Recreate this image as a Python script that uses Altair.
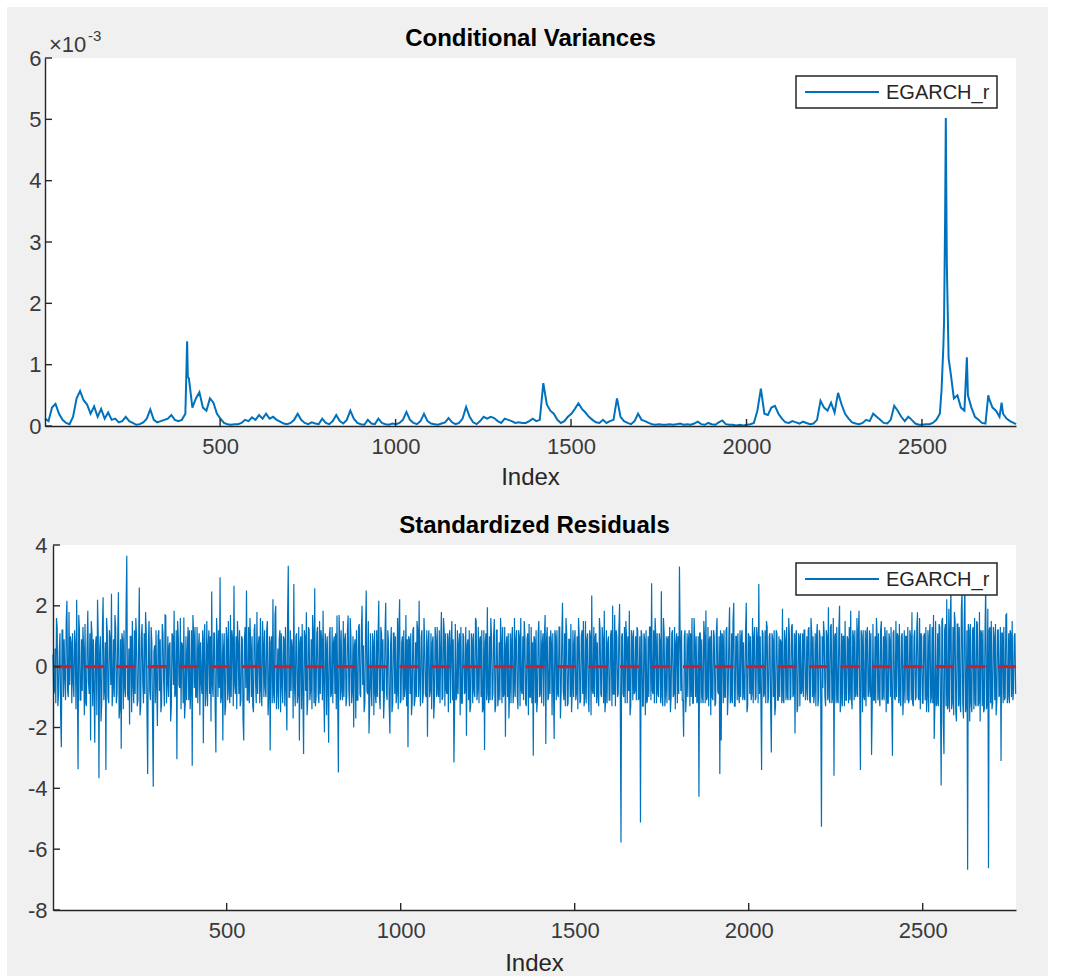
import altair as alt
import pandas as pd

FONT = "Liberation Sans"
LINE_BLUE = "#0072BD"
AXIS_GRAY = "#262626"
LABEL_GRAY = "#3a3a3a"
FIG_GRAY = "#f0f0f0"

series_name = "EGARCH_r"
x_ticks = [500, 1000, 1500, 2000, 2500]
var_ticks = [0, 1, 2, 3, 4, 5, 6]
res_ticks = [-8, -6, -4, -2, 0, 2, 4]
n_obs = 2768

# Conditional variance (units of 1e-3), every 10th observation starting at 1
var_grid = list(range(1, n_obs, 10))
cond_var = [
    0.12, 0.08, 0.30, 0.36, 0.20, 0.10, 0.05, 0.03, 0.15, 0.45,
    0.57, 0.42, 0.35, 0.20, 0.32, 0.15, 0.28, 0.12, 0.22, 0.10,
    0.12, 0.06, 0.08, 0.15, 0.08, 0.05, 0.02, 0.03, 0.06, 0.12,
    0.27, 0.10, 0.06, 0.08, 0.10, 0.12, 0.18, 0.10, 0.08, 0.10,
    0.20, 0.78, 0.30, 0.45, 0.55, 0.30, 0.25, 0.45, 0.38, 0.20,
    0.12, 0.05, 0.03, 0.02, 0.03, 0.03, 0.05, 0.10, 0.08, 0.14,
    0.10, 0.18, 0.12, 0.20, 0.12, 0.15, 0.10, 0.07, 0.04, 0.03,
    0.05, 0.10, 0.20, 0.10, 0.05, 0.03, 0.06, 0.04, 0.03, 0.12,
    0.05, 0.03, 0.08, 0.18, 0.08, 0.04, 0.10, 0.25, 0.12, 0.05,
    0.03, 0.02, 0.10, 0.04, 0.03, 0.12, 0.05, 0.03, 0.02, 0.04,
    0.03, 0.05, 0.10, 0.23, 0.10, 0.05, 0.03, 0.08, 0.20, 0.08,
    0.04, 0.03, 0.02, 0.04, 0.06, 0.13, 0.06, 0.03, 0.05, 0.12,
    0.31, 0.15, 0.06, 0.03, 0.08, 0.15, 0.12, 0.15, 0.13, 0.08,
    0.05, 0.12, 0.10, 0.08, 0.05, 0.06, 0.05, 0.05, 0.08, 0.12,
    0.08, 0.10, 0.70, 0.35, 0.25, 0.20, 0.10, 0.05, 0.08, 0.15,
    0.20, 0.28, 0.37, 0.28, 0.22, 0.15, 0.10, 0.06, 0.05, 0.10,
    0.05, 0.08, 0.10, 0.45, 0.15, 0.08, 0.05, 0.03, 0.08, 0.20,
    0.10, 0.08, 0.05, 0.03, 0.02, 0.03, 0.02, 0.02, 0.03, 0.02,
    0.03, 0.04, 0.02, 0.03, 0.02, 0.04, 0.07, 0.03, 0.02, 0.05,
    0.03, 0.02, 0.06, 0.09, 0.03, 0.02, 0.02, 0.01, 0.02, 0.01,
    0.02, 0.03, 0.05, 0.25, 0.61, 0.20, 0.18, 0.30, 0.33, 0.20,
    0.12, 0.06, 0.05, 0.08, 0.06, 0.04, 0.07, 0.05, 0.03, 0.04,
    0.10, 0.41, 0.30, 0.25, 0.38, 0.22, 0.54, 0.35, 0.20, 0.12,
    0.06, 0.04, 0.03, 0.05, 0.10, 0.08, 0.20, 0.15, 0.10, 0.05,
    0.04, 0.10, 0.33, 0.25, 0.15, 0.08, 0.15, 0.10, 0.04, 0.02,
    0.02, 0.03, 0.03, 0.05, 0.10, 0.20, 1.30, 2.60, 0.90, 0.45,
    0.50, 0.30, 0.25, 0.50, 0.30, 0.15, 0.10, 0.05, 0.04, 0.45,
    0.30, 0.25, 0.15, 0.20, 0.12, 0.08, 0.05,
]
# Extra observations at the sharp variance peaks
peak_index = [404, 406, 408, 2556, 2563, 2566, 2568, 2570, 2573, 2576, 2628, 2689, 2727, 2768]
peak_value = [0.90, 1.38, 0.80, 0.60, 1.70, 3.40, 5.02, 3.30, 2.00, 1.10, 1.12, 0.50, 0.38, 0.03]

# Standardized residuals at observations 1, 5, 9, ... (15 per 60 obs)
res_grid = list(range(1, n_obs, 4))
std_resid = [
    0.4, -0.8, -1.2, 1.3, -0.9, 1.1, -2.65, 1.2, 0.9, -1.1, 2.17, -1.0, -0.6, 0.8, 1.1,
    -1.0, 0.7, 2.2, -3.37, 1.2, -1.1, -0.8, 0.6, 1.4, -1.3, 1.84, -0.9, -2.43, 1.1, 0.9,
    -2.5, 1.0, 2.2, -3.67, 1.0, -1.2, 2.28, -0.7, -3.4, 1.1, -1.2, 0.9, 2.4, -0.8, -1.0,
    1.3, -0.9, 2.45, -1.4, -2.7, 0.9, 1.2, -1.0, 3.65, -1.1, -1.9, 1.0, 1.5, -1.2, -0.9,
    1.0, -1.1, 2.6, -1.3, 1.4, -1.2, -0.9, 1.1, -3.53, 1.5, -1.1, 0.8, -3.95, 0.7, 1.2,
    -1.95, 1.2, 0.9, -1.2, 1.1, -1.3, 1.68, -0.6, -1.0, 0.8, -1.3, 1.0, 1.84, -0.9, -3.04,
    1.0, -0.7, -1.4, 0.7, 1.62, -1.2, -1.1, 1.3, 1.2, -0.8, -3.26, 1.1, 1.3, -1.0, -1.2,
    1.1, 0.8, -0.9, -2.52, 1.4, -0.8, -1.3, 1.2, 1.0, 2.47, -1.0, 1.1, -2.82, 0.9, 1.2,
    2.94, -1.0, -2.43, 1.1, -1.3, 0.9, 1.5, -1.2, -1.0, 0.9, 2.66, -0.9, -1.4, 0.8, 1.2,
    -1.1, 0.9, -2.43, 1.3, 2.5, -1.1, -1.2, 0.7, 1.0, -1.5, 1.4, -1.2, -0.9, 1.0, 1.6,
    -1.3, 0.8, 1.2, -1.0, 1.5, -0.9, -2.76, 1.0, 2.22, -1.2, 2.0, -0.8, -1.4, 1.2, 1.1,
    -1.2, 0.9, 1.3, -2.1, 3.32, -1.0, -0.8, 0.6, 2.72, -1.3, 1.1, -0.9, -2.43, 1.0, 1.4,
    -2.87, 1.0, 1.79, -1.1, 1.2, -0.8, -1.4, 1.1, 2.58, -1.0, 1.3, -1.2, -0.9, 0.9, 1.84,
    -2.16, 0.8, 1.0, -2.5, 1.3, -0.9, -1.2, 1.0, 1.1, 1.68, -3.48, 0.9, 1.2, -1.1, -1.0,
    1.1, -1.0, 1.68, -1.3, 1.0, -0.8, -2.0, 0.9, 1.2, -1.1, 1.4, -1.0, 2.0, 0.7, -1.2,
    2.5, -0.9, -2.2, 1.1, -1.3, 0.8, 1.2, -1.2, -1.0, 2.17, -1.4, 1.1, 0.9, -1.0, 2.1,
    -1.1, 0.8, -2.2, 1.3, -1.2, 1.1, 1.0, -0.9, -1.4, 2.22, -1.1, 1.0, 1.2, -0.7, -1.3,
    -2.65, 0.9, 1.1, -1.2, 1.3, -1.1, -1.0, 1.2, 2.17, -1.3, 1.2, -0.9, 0.8, -1.0, -2.3,
    1.2, -0.8, -1.4, 1.0, -1.1, 0.9, 1.3, -1.0, -1.2, 1.8, -1.0, 1.2, 1.1, -0.9, -1.5,
    1.2, 0.7, -1.1, -3.15, 1.4, -1.0, -0.9, 1.1, 1.3, -1.2, 1.0, -0.8, -2.27, 0.9, 1.2,
    -1.3, 0.9, 1.1, -1.0, 1.5, -0.8, -1.2, 1.0, 1.2, -1.4, -2.74, 1.1, 1.95, -1.2, -1.1,
    1.0, -0.9, 1.57, -1.3, 1.2, -1.0, -1.1, 0.9, 1.3, -0.9, -2.3, 1.0, 1.1, -0.8, -1.2,
    1.3, -0.8, -1.0, 1.2, -1.4, 1.0, 1.6, -0.9, -1.1, 1.0, -1.3, 1.1, 1.4, -1.0, -1.2,
    -2.93, 0.9, 1.2, -1.1, 1.5, -0.9, -1.2, 1.1, 1.0, -2.54, 1.3, -1.0, -0.9, 0.8, 1.1,
    -2.38, 1.0, 1.2, -1.0, 1.3, -0.9, 2.1, -1.1, -1.3, 1.1, -1.2, 0.9, 1.4, -0.8, -1.0,
    1.2, -0.9, -1.4, 1.0, -1.1, 1.2, 1.5, -1.0, -1.2, 1.1, -1.5, 1.0, 2.34, -0.9, -1.0,
    1.1, 0.8, -1.3, 1.2, -1.0, 0.9, 1.84, -1.1, -1.2, 1.0, -1.1, 1.2, 2.0, -0.9, -1.3,
    1.0, -0.9, 2.06, -5.78, 1.1, -1.0, -1.2, 0.9, 1.0, 1.84, -1.3, 1.0, 1.2, -0.8, -1.1,
    1.2, -1.0, -5.12, 1.0, -1.3, 0.9, 1.2, -1.1, -1.0, 1.3, 2.74, -0.9, -1.2, 1.0, 1.1,
    -1.0, 0.8, 2.48, -1.3, 1.1, -0.9, -1.2, 1.0, 1.3, -1.0, 1.2, -0.9, -1.4, 1.1, 1.0,
    3.29, -0.8, -1.1, -2.3, 1.2, -0.9, -1.0, 1.2, 1.1, 1.6, -1.2, 0.9, 1.0, -1.1, -4.28,
    1.1, 0.9, -1.2, 1.0, 1.85, -1.0, -1.3, 1.0, 1.2, -1.1, 1.0, -1.2, 1.6, -0.9, -3.53,
    -2.43, 1.0, 1.2, -1.0, 1.3, -0.9, 1.95, -1.1, -1.2, 2.1, -1.3, 1.0, 1.1, -1.2, -1.0,
    1.2, 0.8, -1.1, 2.1, -1.3, 1.0, 1.0, -0.9, -1.2, 1.3, -1.0, 0.9, 2.72, 1.0, -3.4,
    1.1, -0.9, -1.2, 1.3, -1.0, 1.1, -2.82, 0.9, 1.2, -1.3, 1.1, -1.1, -1.0, 0.8, 1.9,
    -1.2, 0.9, 1.3, -1.1, 1.0, -1.0, 1.4, -0.9, -2.2, 1.2, -1.3, 1.0, 1.1, -0.8, -1.0,
    1.2, -0.8, -1.1, 1.3, -1.2, 1.1, 1.0, -0.9, -1.3, 1.4, -1.0, 1.0, -5.26, -0.7, 1.1,
    -1.3, 1.0, 1.95, -1.2, 1.4, -1.0, -3.59, 1.1, 1.3, -1.2, 2.0, -1.1, -1.3, 1.0, 1.5,
    -1.1, 0.9, 1.3, 1.84, -1.4, 1.0, 1.2, -0.9, -1.0, 1.84, -3.4, 1.0, 1.2, -1.1, -1.3,
    1.3, -0.8, -1.0, -2.9, 1.4, -1.1, -1.2, 1.0, 1.1, -1.3, 1.5, -1.0, -1.1, 0.9, 1.2,
    -1.2, 0.9, 1.3, -2.93, 1.2, -1.1, -1.0, 1.0, 1.4, -1.3, 1.1, -0.9, -1.2, 1.0, 1.3,
    -1.1, 1.0, 1.79, -1.3, 1.2, -1.0, 1.79, -1.1, -1.4, 1.0, -1.2, 1.1, 1.3, -1.0, -1.5,
    1.4, -1.0, -1.2, -2.38, 1.5, -1.2, -1.3, 1.3, -3.91, 1.6, -2.87, 1.4, 2.22, -1.3, -1.5,
    2.6, -1.2, -1.6, 1.5, -1.8, 1.4, 1.3, -1.5, 2.5, -1.7, 2.8, -1.3, -6.68, 1.2, 1.4,
    -1.5, 1.3, 1.6, -1.3, 1.4, -1.2, -1.8, 1.1, 1.2, -1.4, 2.7, -1.2, -6.63, 1.3, 1.5,
    -1.2, 1.0, 1.4, -1.1, 1.2, -0.9, -3.1, 1.1, 1.3, -1.0, 1.73, -1.0, -1.2, 1.1, 1.5,
    -0.8, 1.1,
]
# Standardized residuals at observations 3, 7, 11, ... (the dense core of the band)
res_mid_grid = list(range(3, n_obs, 4))
std_resid_mid = [
    -0.9, 0.6, 1.6, -1.3, 0.5, -1.7, 1.2, -1.0, -0.4, 1.5, -0.8, 1.8, 1.0, -1.2, -0.5,
    1.2, -1.4, -0.6, 1.7, -1.1, 0.9, 1.3, -1.6, -1.2, 0.7, -0.5, 1.1, 1.5, -1.3, -0.8,
    0.7, -1.6, 1.0, 0.5, -1.8, 1.3, -1.1, 0.8, 1.6, -1.0, 1.2, -0.6, -1.3, 0.9, 1.7,
    -1.2, 1.0, -1.7, 0.9, 1.1, -1.4, -0.7, 1.9, -0.9, 0.6, 1.0, -1.5, -0.6, 1.2, 1.6,
    -1.3, 0.7, -1.6, 1.0, -0.6, 1.1, 1.8, -1.5, 0.8, -0.8, 1.3, -1.7, 0.5, -1.2, -0.7,
    1.0, -0.8, -1.5, 1.4, -0.5, 1.7, -1.2, 1.0, 0.7, -1.8, 1.1, -0.6, -1.0, 1.2, 1.5,
    -0.6, 1.6, 0.8, -1.2, -1.7, 1.0, 0.5, -1.1, -1.4, 1.2, 1.7, -0.7, -1.0, 1.3, 0.6,
    -1.6, -0.5, 1.2, 0.9, -1.3, 1.5, 0.7, -0.9, -1.8, -0.6, 1.1, -1.4, 1.6, -1.0, -0.7,
    -1.2, 1.1, 0.6, -1.6, 1.3, -1.1, -0.8, 1.7, 1.2, -1.3, -0.6, 1.0, 1.5, -0.9, -1.3,
    1.0, -1.7, 0.9, -0.7, -1.1, 1.3, 1.6, -1.0, -1.3, 1.2, -0.5, 1.8, 0.7, -1.2, -0.8,
    1.5, -1.0, -0.7, 1.2, -1.6, 1.0, 0.8, -1.2, -0.9, 1.7, -1.4, 0.6, 0.9, -1.5, -0.6,
    1.0, -1.3, -0.8, 1.6, -1.0, 1.2, 0.9, -1.7, -0.7, 1.0, -1.2, 1.3, 0.8, -1.4, -0.9,
    1.2, -0.8, -1.6, 1.3, -1.1, 0.9, 1.7, -1.2, -1.3, 1.1, -0.9, 1.5, 1.2, -1.1, -0.7,
    1.1, -1.6, -0.6, 1.0, -1.0, 1.3, 0.8, -0.9, -1.4, -1.0, 1.7, -1.1, -0.8, 1.5, 0.9,
    -1.3, 1.2, -0.8, 1.6, -1.2, 1.0, 0.7, -1.7, -1.1, 1.3, -0.9, 1.2, -0.6, -1.5, 1.1,
    -0.8, 1.5, -1.2, -0.7, 1.1, -1.6, -0.9, 1.2, 1.0, -1.0, 1.3, -0.8, -1.7, 1.1, -0.9,
    1.2, -1.3, 0.7, -1.5, 1.1, -0.9, -1.2, 1.6, 1.3, -1.2, 0.8, -1.1, -1.0, 1.7, 0.9,
    1.0, -0.9, -1.6, 1.2, -1.3, 0.8, 1.5, -1.0, -0.7, 1.0, -1.2, 1.6, -0.9, 1.2, 0.8,
    -1.0, 1.1, 0.8, -1.7, 1.3, -1.0, -0.9, 1.2, 0.7, -1.1, 1.6, -1.3, -0.8, 1.1, 0.9,
    -1.2, 1.5, 0.9, -1.3, -1.1, 1.2, 0.8, -1.6, -1.2, 1.1, -0.9, 1.3, 0.7, -1.1, -1.5,
    1.1, -1.2, -0.8, 1.6, -1.1, 1.3, 0.9, -1.0, -1.5, 1.2, 0.8, -1.1, -0.9, 1.0, 1.6,
    -1.1, 1.0, -1.5, 1.2, -1.3, 0.8, 1.6, -1.2, -1.0, 1.3, 0.7, -1.0, -1.7, 1.1, 0.9,
    -1.2, 1.6, 0.9, -1.0, 1.2, -1.3, -0.8, 1.0, 1.5, -1.2, 0.9, -1.6, -1.0, 1.3, 0.8,
    1.0, -1.2, -1.5, 1.1, -1.0, 1.2, 0.8, -1.3, 1.7, 0.9, -1.1, 1.0, 1.2, -1.6, -0.7,
    1.2, -1.1, -0.9, 1.3, -1.7, 1.0, -0.8, 1.1, 1.6, -1.3, 0.9, -1.0, -1.5, 1.2, 0.8,
    -1.1, 1.0, 1.6, -1.2, 1.0, -0.9, -1.3, 1.5, 0.9, -1.0, 1.2, -1.6, -0.8, 1.3, 1.0,
    -1.2, -1.0, 1.6, -0.9, 1.3, -1.2, -1.5, 1.2, 0.8, -1.1, 1.0, -1.3, -0.9, 1.7, 1.2,
    -1.0, 1.2, -1.1, 1.0, -0.9, 1.3, 1.5, -1.2, -0.8, -1.6, 1.2, -1.1, -0.9, 1.0, 1.3,
    -1.1, 1.0, 1.2, -1.3, 1.1, -1.6, -1.2, 1.0, 1.3, -1.1, -0.8, 1.2, 1.6, -1.2, -0.9,
    1.1, -1.2, -1.0, 1.6, -1.3, 1.0, 0.9, -1.1, -1.5, 1.1, -1.0, 1.3, 0.8, -1.2, -0.9,
    1.0, 1.2, -1.1, 1.0, -1.5, 1.1, 0.9, -1.3, -1.0, -1.2, 1.6, -1.0, -1.2, 1.0, 1.1,
    -1.2, -1.0, 1.5, -1.2, -1.1, 1.3, 0.9, -1.6, -1.0, 1.2, -1.3, 1.1, -0.8, 1.0, 1.2,
    1.1, -1.2, -1.0, 1.2, -1.6, 1.0, -1.2, 1.1, 1.5, -1.3, 1.0, -1.1, -0.9, 1.2, 1.0,
    -1.1, -1.0, 1.2, -1.5, 1.1, -0.9, -1.1, 1.6, 1.0, -1.1, 1.3, -1.2, -0.9, -1.1, 1.2,
    -1.0, 1.2, 1.5, -1.2, 1.0, -1.3, 1.1, -1.0, -1.6, 1.2, -1.1, 1.0, 0.9, -1.2, -1.1,
    1.2, -1.1, -1.0, 1.6, -1.1, 1.3, -1.0, 1.1, 1.0, -1.5, 1.1, -1.3, -0.9, 1.1, 1.2,
    -1.1, 1.0, 1.2, -1.1, 1.6, -1.0, -1.2, 1.1, 1.0, -1.3, 1.2, -1.1, 1.0, 1.5, -1.0,
    1.2, -1.1, -1.0, 1.3, -1.2, 1.6, 1.0, -1.2, -1.1, 1.2, -1.5, 1.1, 1.0, -1.3, -1.1,
    1.0, -1.2, -1.1, -1.0, 1.2, -1.1, -1.0, 1.6, 1.2, -1.0, 1.2, -1.5, -1.0, 1.2, 1.1,
    -1.0, 1.2, 1.1, -1.2, -1.1, 1.0, 1.6, -1.1, -1.0, 1.2, -1.1, 1.0, 1.3, -1.5, -1.2,
    1.1, -1.0, -1.2, 1.1, -1.0, 1.5, 1.1, -1.2, -1.1, 1.0, -1.6, 1.2, 1.0, -1.1, -1.2,
    1.2, -1.1, -1.2, 1.0, -1.1, 1.3, -1.0, 1.6, 1.1, -1.2, 1.0, -1.1, -1.5, 1.2, 1.0,
    -1.2, 1.3, 1.7, -1.2, -1.3, 1.1, 1.4, -1.2, 1.5, -1.8, 1.2, -1.3, -1.4, 1.9, 1.3,
    -1.4, 1.3, 1.8, -1.5, 1.4, -1.3, -1.2, 1.9, -1.2, 1.3, -1.5, 1.2, 1.4, -1.8, -1.2,
    1.2, -1.4, -1.2, 1.5, -1.3, 1.8, 1.2, -1.3, -1.5, 1.2, -1.4, 1.9, 1.2, -1.2, -1.4,
    1.3, -1.1, -1.6, 1.2, -1.0, 1.3, 1.1, -1.2, -1.1, 1.7, -1.2, 1.1, 1.2, -1.0, -1.1,
    1.0, -0.9,
]

# ---- data tables -------------------------------------------------------
var_df = (
    pd.DataFrame({"idx": var_grid + peak_index, "val": cond_var + peak_value})
    .drop_duplicates("idx", keep="last")
    .sort_values("idx")
)
res_df = pd.DataFrame(
    list(zip(res_grid, std_resid)) + list(zip(res_mid_grid, std_resid_mid)),
    columns=["idx", "val"],
).sort_values("idx")
one = pd.DataFrame({"k": [0]})

# both panels share the right edge; the top one starts 8 px further left
W = 963
FIG_LEFT, FIG_RIGHT = -46, 995


def x_enc(x0):
    return alt.X(
        "idx:Q",
        scale=alt.Scale(domain=[1, n_obs], nice=False, zero=False, range=[x0, W]),
        axis=alt.Axis(
            values=x_ticks, title=None, ticks=False, grid=False, format="d",
            labelFont=FONT, labelFontSize=22, labelColor=LABEL_GRAY,
            labelPadding=10, domainColor=AXIS_GRAY, domainWidth=1.4,
            zindex=1,
        ),
    )


def y_enc(domain, ticks, offset, label_pad):
    return alt.Y(
        "val:Q",
        scale=alt.Scale(domain=domain, nice=False, zero=False),
        axis=alt.Axis(
            values=ticks, title=None, ticks=False, grid=False,
            labelExpr="'' + datum.value",
            labelFont=FONT, labelFontSize=22, labelColor=LABEL_GRAY,
            labelPadding=label_pad, domainColor=AXIS_GRAY, domainWidth=1.4,
            offset=offset, zindex=1,
        ),
    )


def panel(h, x0, top_gap, bottom_gap, title, line_df, y_domain, y_ticks,
          line_width, extra_under, extra_over, label_pad, index_gap):
    xe = x_enc(x0)
    ye = y_enc(y_domain, y_ticks, -x0, label_pad)
    cx = (x0 + W) / 2

    bg = alt.Chart(one).mark_rect(color=FIG_GRAY).encode(
        x=alt.value(FIG_LEFT), x2=alt.value(FIG_RIGHT),
        y=alt.value(-top_gap), y2=alt.value(h + bottom_gap),
    )
    plot_bg = alt.Chart(one).mark_rect(color="white").encode(
        x=alt.value(x0), x2=alt.value(W), y=alt.value(0), y2=alt.value(h)
    )
    line = alt.Chart(line_df).mark_line(
        color=LINE_BLUE, strokeWidth=line_width
    ).encode(x=xe, y=ye)

    # inward tick marks
    xt = alt.Chart(pd.DataFrame({"idx": x_ticks})).mark_rule(
        color=AXIS_GRAY, strokeWidth=1.4
    ).encode(x=xe, y=alt.value(h), y2=alt.value(h - 7))
    yt = alt.Chart(pd.DataFrame({"val": y_ticks})).mark_rule(
        color=AXIS_GRAY, strokeWidth=1.4
    ).encode(y=ye, x=alt.value(x0), x2=alt.value(x0 + 7))

    # legend box
    lx0, lx1 = 743, 944
    leg_box = alt.Chart(one).mark_rect(
        fill="white", stroke=AXIS_GRAY, strokeWidth=1.5
    ).encode(x=alt.value(lx0), x2=alt.value(lx1), y=alt.value(18), y2=alt.value(50))
    leg_line = alt.Chart(one).mark_rule(color=LINE_BLUE, strokeWidth=2).encode(
        x=alt.value(lx0 + 9), x2=alt.value(lx0 + 83), y=alt.value(34)
    )
    leg_text = alt.Chart(one).mark_text(
        text=series_name, font=FONT, fontSize=20, color=AXIS_GRAY,
        align="left", baseline="middle",
    ).encode(x=alt.value(lx0 + 90), y=alt.value(35))

    ttl = alt.Chart(one).mark_text(
        text=title, font=FONT, fontSize=24, fontWeight="bold", color="black",
        align="center", baseline="alphabetic",
    ).encode(x=alt.value(cx), y=alt.value(-12))
    xlab = alt.Chart(one).mark_text(
        text="Index", font=FONT, fontSize=24, color=AXIS_GRAY,
        align="center", baseline="alphabetic",
    ).encode(x=alt.value(cx), y=alt.value(h + index_gap))

    return alt.layer(
        bg, plot_bg, line, *extra_under(ye), xt, yt, leg_box, leg_line,
        leg_text, ttl, xlab, *extra_over,
    ).properties(width=W, height=h)


# top panel: plot area x 45..1016, y 58..426
exp_main = alt.Chart(one).mark_text(
    text="\u00d710", font=FONT, fontSize=22, color=LABEL_GRAY,
    align="left", baseline="alphabetic",
).encode(x=alt.value(-4), y=alt.value(-6))
exp_sup = alt.Chart(one).mark_text(
    text="-3", font=FONT, fontSize=15, color=LABEL_GRAY,
    align="left", baseline="alphabetic",
).encode(x=alt.value(35), y=alt.value(-17))

top = panel(
    368, -8, top_gap=51, bottom_gap=69, title="Conditional Variances",
    line_df=var_df, y_domain=[0, 6], y_ticks=var_ticks, line_width=2,
    extra_under=lambda ye: [], extra_over=[exp_main, exp_sup], label_pad=4,
    index_gap=59,
)


# bottom panel: plot area x 53..1016, y 545..910
def zero_layer(ye):
    return [
        alt.Chart(pd.DataFrame({"val": [0]})).mark_rule(
            color="#c8202c", strokeWidth=3.2, strokeDash=[19, 12.5]
        ).encode(y=ye, x=alt.value(0), x2=alt.value(W))
    ]


bottom = panel(
    365, 0, top_gap=50, bottom_gap=66, title="Standardized Residuals",
    line_df=res_df, y_domain=[-8, 4], y_ticks=res_ticks, line_width=1.2,
    extra_under=zero_layer, extra_over=[], label_pad=6, index_gap=61,
)

chart = (
    alt.vconcat(top, bottom, spacing=0)
    .properties(
        background="white",
        padding={"left": 7, "top": 7, "right": 22, "bottom": 3},
    )
    .configure_view(stroke=None)
)

chart.save("out.html", embed_options={"renderer": "svg", "actions": False})
